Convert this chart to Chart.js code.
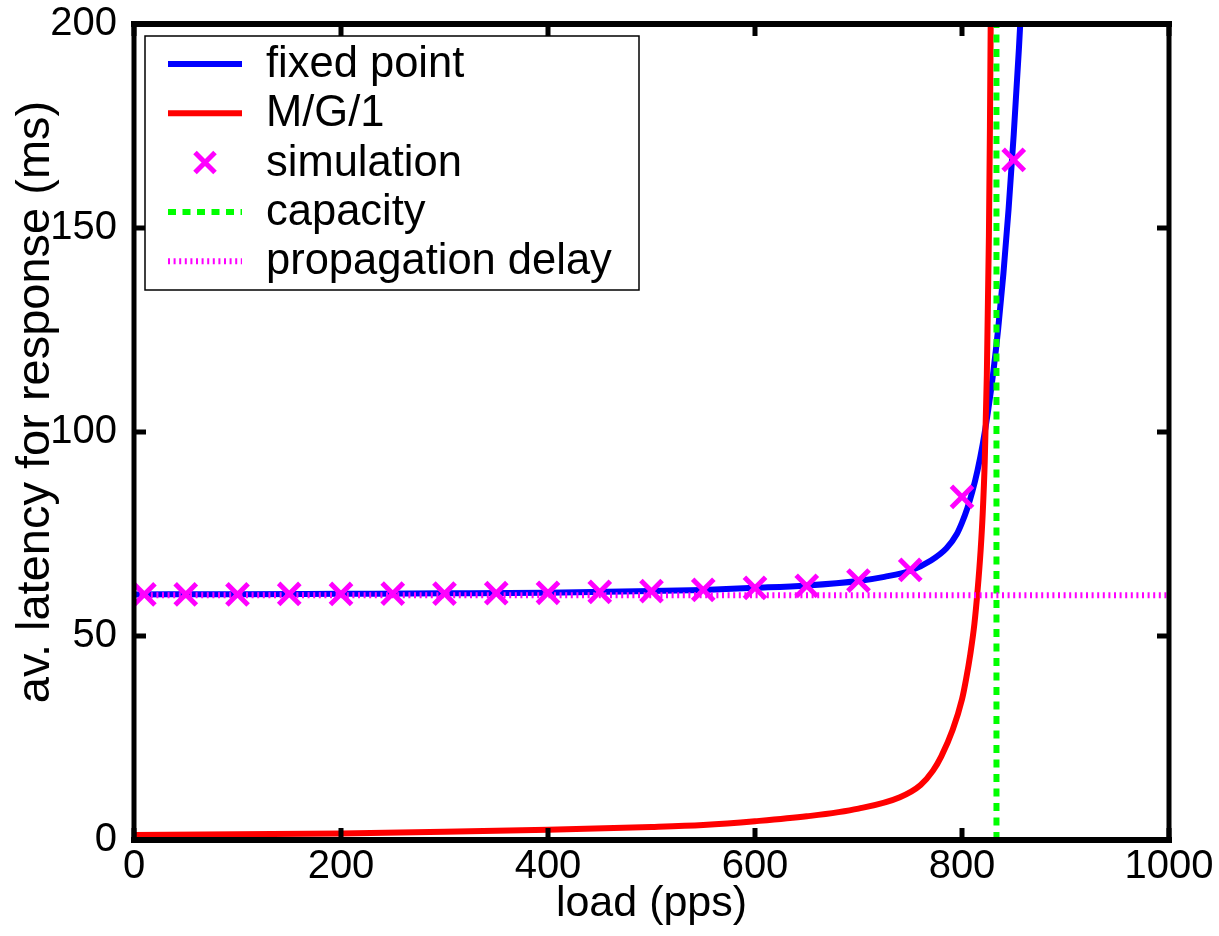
<!DOCTYPE html>
<html>
<head>
<meta charset="utf-8">
<title>Latency vs load</title>
<script src="https://cdn.jsdelivr.net/npm/chart.js@4/dist/chart.umd.min.js"></script>
<style>
  html, body { margin: 0; padding: 0; background: #fff; }
  #wrap { position: relative; width: 1219px; height: 936px; }
</style>
</head>
<body>
<div id="wrap"><canvas id="latencyChart"></canvas></div>
<script>
// Response latency against offered load: fixed-point model, M/G/1 model and simulation runs.

// fixed point model (ms)
const fixedLoad = [0, 100, 200, 300, 400, 500, 550, 600, 650, 700, 725, 750, 770, 785, 795, 800,
  805, 810, 815, 820, 825, 830, 835, 840, 845, 850, 855, 860];
const fixedLatency = [60.2, 60.25, 60.35, 60.45, 60.6, 61.0, 61.3, 61.8, 62.4, 63.5, 64.5, 66.0, 68.5, 71.5, 75, 77.8,
  81.2, 85.4, 90.6, 97, 104.8, 114.2, 125.4, 138.8, 154.6, 173, 194, 218];

// M/G/1 queue (ms)
const mg1Load = [0, 100, 200, 300, 400, 500, 550, 600, 650, 700, 740, 760, 772, 780, 791, 800,
  804, 808, 812, 815, 818, 820, 822, 824, 826, 827, 828];
const mg1Latency = [1.2, 1.4, 1.6, 2.0, 2.5, 3.2, 3.7, 4.6, 5.8, 7.7, 10.5, 13.5, 17, 20.5, 27, 34.5,
  39.5, 45.5, 53, 61, 71, 80, 93, 114, 148, 175, 210];

// simulation runs (ms)
const simLoad = [10, 50, 100, 150, 200, 250, 300, 350, 400, 450, 500, 550, 600, 650, 700, 750, 800, 850];
const simLatency = [60.2, 60.2, 60.2, 60.3, 60.3, 60.4, 60.4, 60.5, 60.6, 60.8, 61.0, 61.3, 61.8, 62.3, 63.6, 66.2, 84.1, 166.7];

const capacityLoad = 833.3;   // pps
const propagationDelay = 60;  // ms

const xTicks = [0, 200, 400, 600, 800, 1000];
const yTicks = [0, 50, 100, 150, 200];
const yTitle = 'av. latency for response (ms)';

const FONT = "'Liberation Sans', Arial, Helvetica, sans-serif";

function toPoints(xs, ys) {
  return xs.map((x, i) => ({ x: x, y: ys[i] }));
}

// boxed axes with inward tick marks on all four sides
const boxAxes = {
  id: 'boxAxes',
  afterDatasetsDraw(chart) {
    const { ctx, chartArea: a, scales: { x, y } } = chart;
    ctx.save();
    ctx.strokeStyle = '#000';
    ctx.lineCap = 'butt';
    ctx.lineWidth = 5;
    ctx.beginPath();
    xTicks.forEach(v => {
      const px = x.getPixelForValue(v);
      ctx.moveTo(px, a.bottom); ctx.lineTo(px, a.bottom - 12);
      ctx.moveTo(px, a.top); ctx.lineTo(px, a.top + 12);
    });
    yTicks.forEach(v => {
      const py = y.getPixelForValue(v);
      ctx.moveTo(a.left, py); ctx.lineTo(a.left + 12, py);
      ctx.moveTo(a.right, py); ctx.lineTo(a.right - 12, py);
    });
    ctx.stroke();

    ctx.lineCap = 'square';
    ctx.lineWidth = 6;
    ctx.beginPath();
    ctx.moveTo(a.left, a.top); ctx.lineTo(a.right, a.top);
    ctx.moveTo(a.left, a.bottom); ctx.lineTo(a.right, a.bottom);
    ctx.stroke();
    ctx.lineWidth = 5;
    ctx.beginPath();
    ctx.moveTo(a.left, a.top); ctx.lineTo(a.left, a.bottom);
    ctx.moveTo(a.right, a.top); ctx.lineTo(a.right, a.bottom);
    ctx.stroke();

    // y axis label, rotated
    ctx.fillStyle = '#000';
    ctx.font = '47px ' + FONT;
    ctx.textAlign = 'center';
    ctx.textBaseline = 'middle';
    ctx.translate(36, 402);
    ctx.rotate(-Math.PI / 2);
    ctx.fillText(yTitle, 0, 0);
    ctx.restore();
  }
};

// legend box in the upper left corner of the plot
const boxLegend = {
  id: 'boxLegend',
  afterDraw(chart) {
    const { ctx, chartArea: a } = chart;
    const left = a.left + 11, top = a.top + 12, w = 494, h = 254;
    const rowH = 49.3;
    ctx.save();
    ctx.fillStyle = '#fff';
    ctx.fillRect(left, top, w, h);
    ctx.strokeStyle = '#000';
    ctx.lineWidth = 1.5;
    ctx.strokeRect(left, top, w, h);

    chart.data.datasets.forEach((ds, i) => {
      const cy = top + 28 + i * rowH;
      const x1 = left + 23, x2 = left + 97;
      ctx.strokeStyle = ds.borderColor;
      ctx.lineWidth = ds.borderWidth;
      ctx.lineCap = 'butt';
      if (ds.showLine === false) {
        const cx = (x1 + x2) / 2, r = 10;
        ctx.beginPath();
        ctx.moveTo(cx - r, cy - r); ctx.lineTo(cx + r, cy + r);
        ctx.moveTo(cx - r, cy + r); ctx.lineTo(cx + r, cy - r);
        ctx.stroke();
      } else {
        ctx.setLineDash(ds.borderDash || []);
        ctx.beginPath();
        ctx.moveTo(x1, cy); ctx.lineTo(x2, cy);
        ctx.stroke();
        ctx.setLineDash([]);
      }
      ctx.fillStyle = '#000';
      ctx.font = '43.5px ' + FONT;
      ctx.textBaseline = 'middle';
      ctx.textAlign = 'left';
      ctx.fillText(ds.label, left + 121, cy + 1);
    });
    ctx.restore();
  }
};

new Chart(document.getElementById('latencyChart'), {
  type: 'line',
  data: {
    datasets: [{
      label: 'fixed point',
      data: toPoints(fixedLoad, fixedLatency),
      borderColor: '#0000ff',
      borderWidth: 6,
      pointRadius: 0,
      cubicInterpolationMode: 'monotone',
      order: 5
    }, {
      label: 'M/G/1',
      data: toPoints(mg1Load, mg1Latency),
      borderColor: '#ff0000',
      borderWidth: 6,
      pointRadius: 0,
      cubicInterpolationMode: 'monotone',
      order: 4
    }, {
      label: 'simulation',
      data: toPoints(simLoad, simLatency),
      showLine: false,
      borderColor: '#ff00ff',
      backgroundColor: '#ff00ff',
      borderWidth: 5,
      pointStyle: 'crossRot',
      pointRadius: 15,
      pointBorderWidth: 5,
      order: 3
    }, {
      label: 'capacity',
      data: [{ x: capacityLoad, y: 0 }, { x: capacityLoad, y: 200 }],
      borderColor: '#00ff00',
      borderWidth: 6,
      borderDash: [8, 6.5],
      pointRadius: 0,
      order: 2
    }, {
      label: 'propagation delay',
      data: [{ x: 0, y: propagationDelay }, { x: 1000, y: propagationDelay }],
      borderColor: '#ff00ff',
      borderWidth: 6,
      borderDash: [2, 3.6],
      pointRadius: 0,
      order: 1
    }]
  },
  options: {
    responsive: true,
    maintainAspectRatio: false,
    devicePixelRatio: 1,
    animation: false,
    layout: { padding: { top: 24, right: 50, left: 0, bottom: 0 } },
    plugins: {
      legend: { display: false },
      tooltip: { enabled: false }
    },
    scales: {
      x: {
        type: 'linear',
        min: 0,
        max: 1000,
        grid: { display: false, drawTicks: false },
        border: { display: false },
        ticks: {
          stepSize: 200,
          maxRotation: 0,
          padding: 3,
          color: '#000',
          font: { size: 40, family: FONT },
          callback: v => String(v)
        },
        title: {
          display: true,
          text: 'load (pps)',
          color: '#000',
          font: { size: 43, family: FONT },
          padding: { top: 0, bottom: 6 }
        },
        afterFit: scale => { scale.height = 96; }
      },
      y: {
        type: 'linear',
        min: 0,
        max: 200,
        grid: { display: false, drawTicks: false },
        border: { display: false },
        ticks: {
          stepSize: 50,
          padding: 17,
          color: '#000',
          font: { size: 40, family: FONT, lineHeight: 0.3 }
        },
        afterFit: scale => { scale.width = 134; }
      }
    }
  },
  plugins: [boxAxes, boxLegend]
});
</script>
</body>
</html>
